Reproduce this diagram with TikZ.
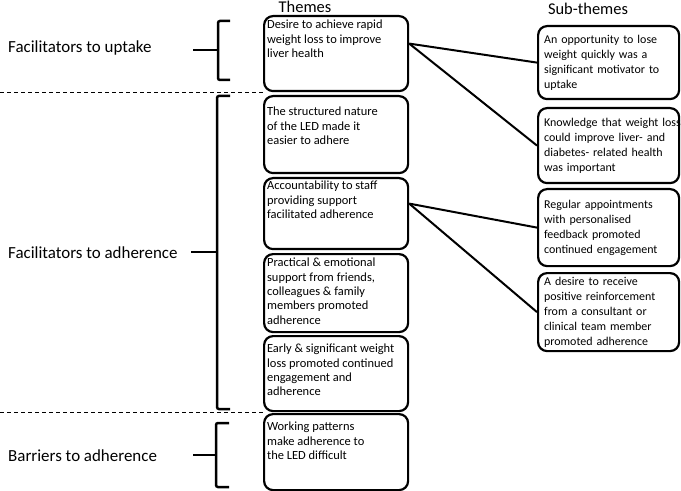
\documentclass[tikz,border=0pt]{standalone}
\usepackage{fontspec}
\setmainfont{Carlito}

\newlength{\du}
\setlength{\du}{1bp}

\tikzset{
  themebox/.style={draw, line width=2.2\du, rounded corners=9\du, anchor=north west,
    inner xsep=3\du, inner ysep=0pt, font=\fontsize{12.5}{14.4}\selectfont},
  subbox/.style={draw, line width=2.2\du, rounded corners=9\du, anchor=north west,
    text width=129\du, inner xsep=6\du, align=left, font=\fontsize{12}{15}\selectfont},
  grouplabel/.style={anchor=west, inner sep=0pt, font=\fontsize{17}{20}\selectfont},
  heading/.style={inner sep=0pt, font=\fontsize{16.5}{20}\selectfont},
  link/.style={line width=2\du},
  bracket/.style={line width=2.5\du, rounded corners=2\du},
  divider/.style={line width=1\du, dash pattern=on 4\du off 3\du}
}
% height, space on top, text
\newcommand{\thm}[3]{\parbox[c][#1][t]{138\du}{\raggedright\vspace*{#2}#3}}

\begin{document}
\begin{tikzpicture}[x=1bp, y=-1bp]
\useasboundingbox (0,0) rectangle (681,491);

\node[heading] (themes) at (305,7) {Themes};
\node[heading] (subthemes) at (588,9) {Sub-themes};

\node[grouplabel] (uptake) at (8,48) {Facilitators to uptake};
\node[grouplabel] (adherence) at (8,253) {Facilitators to adherence};
\node[grouplabel] (barriers) at (8,456) {Barriers to adherence};

\draw[divider] (0,93) -- (263,93);
\draw[divider] (0,412) -- (263,412);

% brackets
\draw[bracket] (230,21) -- (218,21) -- (218,80) -- (230,80);
\draw[bracket] (193,50) -- (218,50);
\draw[bracket] (230,96) -- (217,96) -- (217,409) -- (230,409);
\draw[bracket] (191,252) -- (217,252);
\draw[bracket] (229,423) -- (216,423) -- (216,487) -- (229,487);
\draw[bracket] (193,455) -- (216,455);

% themes
\node[themebox] (th1) at (263,15) {\thm{75\du}{4\du}{Desire to achieve rapid\\weight loss to improve\\liver health}};
\node[themebox] (th2) at (263,95) {\thm{77\du}{11\du}{The structured nature\\of the LED made it\\easier to adhere}};
\node[themebox] (th3) at (263,177) {\thm{71\du}{3\du}{Accountability to staff\\providing support\\facilitated adherence}};
\node[themebox] (th4) at (263,253) {\thm{78\du}{4\du}{Practical \& emotional\\support from friends,\\colleagues \& family\\members promoted\\adherence}};
\node[themebox] (th5) at (263,335) {\thm{75\du}{8\du}{Early \& significant weight\\loss promoted continued\\engagement and\\adherence}};
\node[themebox] (th6) at (263,413) {\thm{76\du}{8\du}{Working patterns\\make adherence to\\the LED difficult}};

% sub-themes
\node[subbox, minimum height=73\du] (sub1) at (537,25) {An opportunity to lose\\weight quickly was a\\significant motivator to\\uptake};
\node[subbox, minimum height=75\du] (sub2) at (537,107) {\mbox{Knowledge that weight loss}\\could improve liver- and\\diabetes- related health\\was important};
\node[subbox, minimum height=77\du] (sub3) at (537,188) {Regular appointments\\with personalised\\feedback promoted\\continued engagement};
\node[subbox, minimum height=78\du] (sub4) at (537,272) {A desire to receive\\positive reinforcement\\from a consultant or\\clinical team member\\promoted adherence};

\draw[link] ([yshift=10\du]th1.east) -- (sub1.west);
\draw[link] ([yshift=10\du]th1.east) -- (sub2.west);
\draw[link] ([yshift=10\du]th3.east) -- (sub3.west);
\draw[link] ([yshift=10\du]th3.east) -- (sub4.west);
\end{tikzpicture}
\end{document}
